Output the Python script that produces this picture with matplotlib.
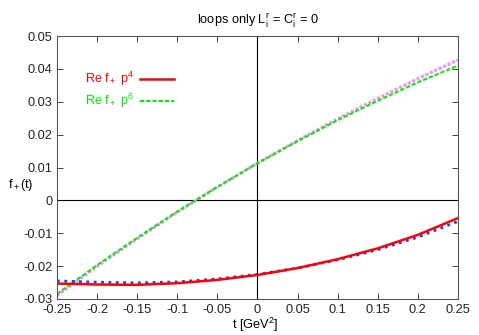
import matplotlib
matplotlib.use("Agg")
import matplotlib.pyplot as plt
from matplotlib.lines import Line2D
from matplotlib.ticker import FormatStrFormatter

# t values [GeV^2]
t = [-0.25, -0.2, -0.15, -0.1, -0.05, 0.0, 0.05, 0.1, 0.15, 0.2, 0.25]

# upper pair of curves
re_p6 = [-0.0285, -0.0197, -0.0114, -0.0034, 0.0041, 0.0113, 0.0180, 0.0244, 0.0303, 0.0359, 0.0410]
mag = [-0.0290, -0.0201, -0.0117, -0.0036, 0.0040, 0.0113, 0.0182, 0.0248, 0.0310, 0.0370, 0.0427]

# lower pair of curves
re_p4 = [-0.0253, -0.0256, -0.0257, -0.0252, -0.0242, -0.0227, -0.0206, -0.0179, -0.0146, -0.0105, -0.0054]
blue = [-0.0245, -0.0249, -0.0251, -0.0248, -0.0239, -0.0225, -0.0206, -0.0181, -0.0150, -0.0112, -0.0064]

xticks = [-0.25, -0.2, -0.15, -0.1, -0.05, 0, 0.05, 0.1, 0.15, 0.2, 0.25]
yticks = [-0.03, -0.02, -0.01, 0, 0.01, 0.02, 0.03, 0.04, 0.05]

FS = 9.2
plt.rcParams['font.family'] = ['Liberation Sans', 'DejaVu Sans']
plt.rcParams['font.size'] = FS
plt.rcParams['axes.unicode_minus'] = False
plt.rcParams['mathtext.fontset'] = 'custom'
plt.rcParams['mathtext.rm'] = 'Liberation Sans'
plt.rcParams['mathtext.it'] = 'Liberation Sans'

fig = plt.figure(figsize=(4.79, 3.35), dpi=100)
ax = fig.add_axes([0.119, 0.1075, 0.837, 0.785])

ax.axhline(0, color='black', lw=0.8)
ax.axvline(0, color='black', lw=0.8)

ax.plot(t, mag, color='#ff88ff', lw=2.2, ls=(0, (1, 0.6)))
ax.plot(t, re_p6, color='#00ee00', lw=1.5, ls=(0, (2, 1)))
ax.plot(t, blue, color='#3030ff', lw=2.0, ls=':')
ax.plot(t, re_p4, color='#ff0000', lw=1.8)

ax.set_xlim(-0.25, 0.25)
ax.set_ylim(-0.03, 0.05)
ax.set_xticks(xticks)
ax.set_yticks(yticks)
ax.xaxis.set_major_formatter(FormatStrFormatter('%g'))
ax.yaxis.set_major_formatter(FormatStrFormatter('%g'))
ax.tick_params(direction='in', top=True, right=True, length=4, width=0.6,
               labelsize=FS, colors='#222222')
for s in ax.spines.values():
    s.set_linewidth(0.8)
    s.set_color('#555555')

handles = [Line2D([0], [0], color='#ff0000', lw=1.8, label=r'Re f$_+$ p$^4$'),
           Line2D([0], [0], color='#00ee00', lw=1.5, ls=(0, (2, 1)), label=r'Re f$_+$ p$^6$')]
ax.legend(handles=handles, frameon=False, markerfirst=False, labelcolor='linecolor',
          loc='upper left', bbox_to_anchor=(0.04, 0.915), handlelength=2.6,
          handletextpad=0.5, labelspacing=0.3, fontsize=FS)

ax.set_title(r'loops only L$_i^r$ = C$_i^r$ = 0', fontsize=FS, pad=9)
fig.text(8 / 479, 1 - 185 / 335, r'f$_+$(t)', ha='left', va='center', fontsize=FS)
fig.text(255 / 479, 1 - 325 / 335, r't [GeV$^2$]', ha='center', va='center', fontsize=FS)

fig.savefig('out.png', dpi=100)
